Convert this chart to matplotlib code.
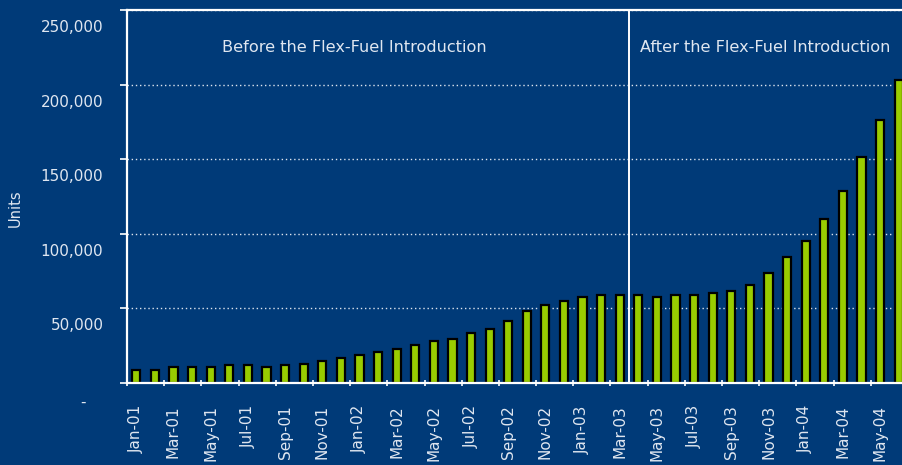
import matplotlib
matplotlib.use("Agg")
import matplotlib.pyplot as plt
from matplotlib.transforms import ScaledTranslation

# monthly flex-fuel sales, Jan-01 .. Jun-04
months = ['Jan', 'Feb', 'Mar', 'Apr', 'May', 'Jun',
          'Jul', 'Aug', 'Sep', 'Oct', 'Nov', 'Dec']
years = ['01', '02', '03', '04']
labels = [m + '-' + y for y in years for m in months][:42]

units = [9000, 9000, 10500, 10500, 10500, 11800, 11800, 10500, 11800, 13000, 14500, 17000,
         18500, 21000, 22500, 25300, 28000, 29400, 33500, 36000, 41500, 48200, 52000, 55000,
         57600, 59000, 59000, 59000, 57600, 59000, 59000, 60500, 61800, 65900, 74000, 84700,
         95400, 110000, 129000, 151800, 176000, 203000]

split_after = 'Mar-03'
text_before = 'Before the Flex-Fuel Introduction'
text_after = 'After the Flex-Fuel Introduction'

bg = '#003a78'
txt = '#dfe6f0'

fig = plt.figure(figsize=(9.03, 4.65), dpi=100, facecolor=bg)
ax = fig.add_axes([127 / 903, 82 / 465, 781 / 903, 373 / 465], facecolor=bg)

x = list(range(len(units)))
ax.bar(x, units, width=0.44, color='#99cc00', edgecolor='black', linewidth=1.6, zorder=2)

ax.set_xlim(-0.5, len(units) - 0.5)
ax.set_ylim(0, 250000)

# y axis
yt = [0, 50000, 100000, 150000, 200000, 250000]
ax.set_yticks(yt)
ax.set_yticklabels(['-'] + [f'{v:,}' for v in yt[1:]])
ax.yaxis.grid(True, color='#dde4ee', linestyle=(0, (1, 2)), linewidth=1.0, zorder=1)
ax.set_axisbelow(True)
ax.tick_params(axis='y', colors='white', labelcolor=txt, labelsize=11, length=5,
               width=1.2, pad=12)
off = ScaledTranslation(0, -16 / 100, fig.dpi_scale_trans)
for lab in ax.get_yticklabels():
    lab.set_transform(lab.get_transform() + off)
# the zero label sits a little further left
zero = ax.get_yticklabels()[0]
zero.set_transform(zero.get_transform() + ScaledTranslation(-18 / 100, -2 / 100, fig.dpi_scale_trans))
ax.set_ylabel('Units', color=txt, fontsize=10.5)
ax.yaxis.set_label_coords(-104 / 781, 0.47)

# x axis: tick marks between every second month, labels on the bars
ax.set_xticks([i - 0.5 for i in range(0, len(units), 2)])
ax.set_xticklabels([])
ax.set_xticks(list(range(0, len(units), 2)), minor=True)
ax.set_xticklabels(labels[::2], minor=True, rotation=90)
ax.tick_params(axis='x', which='major', colors='white', length=5, width=1.2, direction='inout')
ax.tick_params(axis='x', which='minor', length=0, labelcolor=txt, labelsize=11, pad=16)

for side in ['left', 'bottom', 'top']:
    ax.spines[side].set_color('white')
    ax.spines[side].set_linewidth(1.6)
    ax.spines[side].set_zorder(3)
ax.spines['right'].set_visible(False)

split = labels.index(split_after) + 0.5
ax.axvline(split, color='white', linewidth=1.4, zorder=3)

ax.text(11.7, 225000, text_before, color=txt, fontsize=11.6, ha='center', va='center')
ax.text(33.8, 225000, text_after, color=txt, fontsize=11.6, ha='center', va='center')

fig.savefig('out.png', dpi=100, facecolor=bg)
